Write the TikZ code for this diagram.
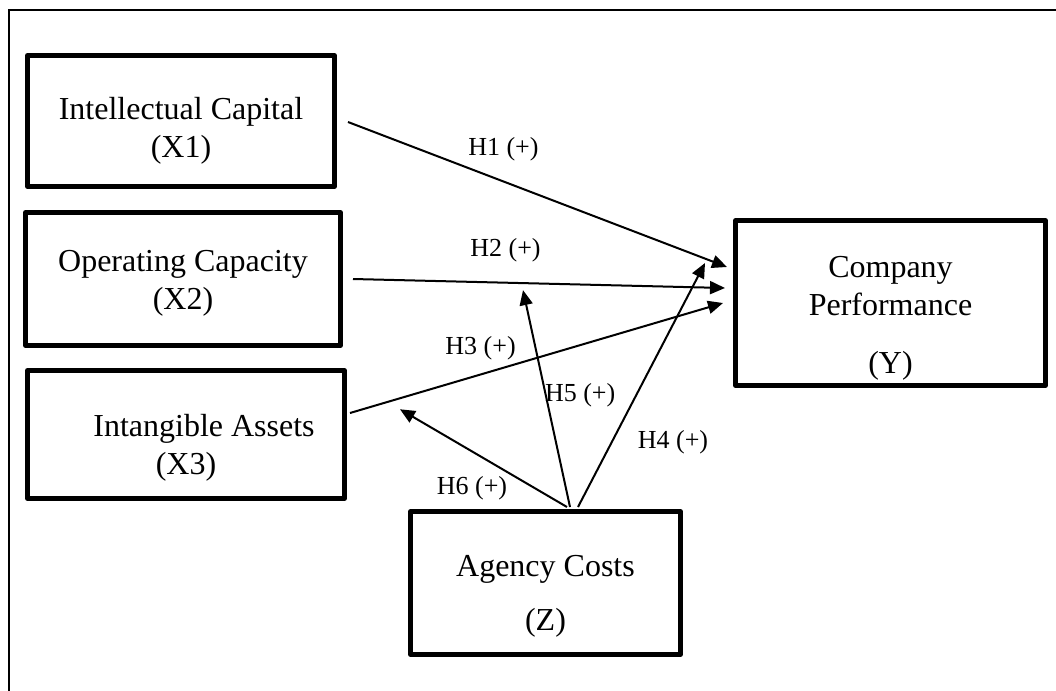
\documentclass[tikz,border=0pt]{standalone}
\usepackage{fontspec}
\setmainfont{Liberation Serif}
\usetikzlibrary{positioning}
\usetikzlibrary{arrows.meta}

\begin{document}
\begin{tikzpicture}[x=0.5pt, y=-0.5pt,
squarednode/.style={rectangle, draw=black, fill=white, line width=2.6pt, line join=round, align=center, inner sep=0pt, font=\fontsize{16pt}{19pt}\selectfont},
hyplabel/.style={inner sep=0pt, font=\fontsize{13pt}{15pt}\selectfont},
hyparrow/.style={-{Triangle[length=7.5pt,width=6.5pt]}, line width=1pt},
]
\useasboundingbox (0,0) rectangle (1056,691);
%Frame
\draw[line width=1.2pt] (9,691) -- (9,10) -- (1056,10);

%Nodes
\node[squarednode, minimum width=153.4pt, minimum height=65.4pt] (x1) at (181,121) {\rule{0pt}{21pt}Intellectual Capital\\(X1)};
\node[squarednode, minimum width=157.4pt, minimum height=66.4pt] (x2) [below=10.5pt of x1, xshift=1pt] {\rule{0pt}{14.5pt}Operating Capacity\\(X2)};
\node[squarednode, minimum width=158.4pt, minimum height=63.9pt] (x3) [below=10pt of x2, xshift=1.5pt] {\rule{0pt}{24pt}\hspace*{18pt}Intangible Assets\\(X3)};
\node[squarednode, minimum width=154.9pt, minimum height=82.4pt] (y) at (890.5,303) {\rule{0pt}{26pt}Company\\Performance\\[10pt](Y)};
\node[squarednode, minimum width=134.9pt, minimum height=71.4pt] (z) at (545.5,583) {\rule{0pt}{24pt}Agency Costs\\[8pt](Z)};

%Lines
\draw[hyparrow] ([xshift=5.5pt, yshift=-0.5pt]x1.east) -- ([xshift=-3pt, yshift=18pt]y.west) node[hyplabel, pos=0.41, yshift=16pt] (h1) {H1 (+)};
\draw[hyparrow] ([xshift=5pt]x2.east) -- ([xshift=-4pt, yshift=7.5pt]y.west) coordinate[pos=0.457] (m2) node[hyplabel, pos=0.41, yshift=16pt] (h2) {H2 (+)};
\draw[hyparrow] ([xshift=1.5pt, yshift=10.75pt]x3.east) -- ([xshift=-5pt]y.west) coordinate[pos=0.134] (m3) node[hyplabel, pos=0.35, yshift=13pt] (h3) {H3 (+)};
\draw[hyparrow] ([xshift=16.25pt, yshift=1pt]z.north) -- ([xshift=-14pt, yshift=20pt]y.west) node[hyplabel, pos=0.266, xshift=30.6pt] (h4) {H4 (+)};
\draw[hyparrow] ([xshift=12.25pt, yshift=1pt]z.north) -- ([yshift=-3.5pt]m2) node[hyplabel, pos=0.516, xshift=17.2pt] (h5) {H5 (+)};
\draw[hyparrow] ([xshift=10.75pt, yshift=1pt]z.north) -- ([yshift=-5.5pt]m3) node[hyplabel, pos=0.569, yshift=-18.4pt] (h6) {H6 (+)};
\end{tikzpicture}
\end{document}
